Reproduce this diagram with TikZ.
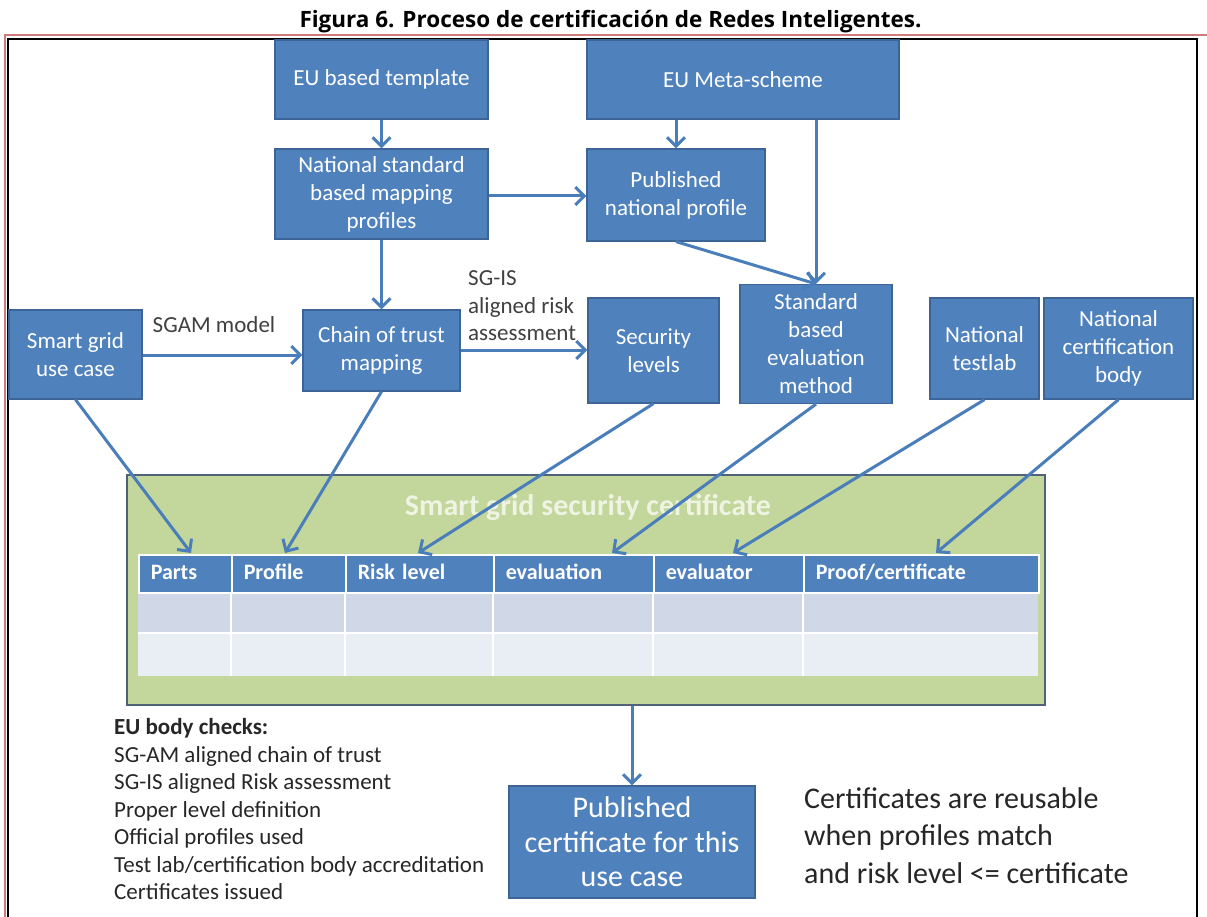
\documentclass[tikz,border=0pt]{standalone}
\usepackage{fontspec}
\setmainfont{Carlito}
\newfontfamily\titlefont{Open Sans}
\usetikzlibrary{arrows.meta,calc}
\definecolor{boxblue}{RGB}{79,129,189}
\definecolor{boxedge}{RGB}{60,100,150}
\definecolor{linkblue}{RGB}{74,126,187}
\definecolor{certgreen}{RGB}{195,214,155}
\definecolor{certedge}{RGB}{80,98,120}
\definecolor{rowa}{RGB}{208,216,232}
\definecolor{rowb}{RGB}{233,237,244}
\definecolor{framered}{RGB}{208,124,124}
\definecolor{labelgray}{RGB}{64,64,64}
\definecolor{textdark}{RGB}{38,38,38}
\definecolor{certtitle}{RGB}{238,243,226}
\tikzset{
  bbox/.style={draw=boxedge, line width=1.2pt, fill=boxblue, text=white, align=center,
    inner sep=0pt, font=\fontsize{23}{28}\selectfont},
  link/.style={draw=linkblue, line width=3pt, -{Straight Barb[length=9pt,width=18pt]}},
  lbl/.style={text=labelgray, inner sep=0pt, align=left, font=\fontsize{23}{27.5}\selectfont},
  hcell/.style={fill=boxblue, draw=white, line width=1.5pt, text=white, anchor=north west,
    align=left, inner xsep=12pt, inner ysep=0pt, minimum height=38pt,
    text height=15pt, text depth=4pt, font=\bfseries\fontsize{22}{26}\selectfont},
}
\begin{document}
\begin{tikzpicture}[x=1pt,y=-1pt]
\useasboundingbox (0,0) rectangle (1207,917);
% title and frame
\node[anchor=base, inner sep=0pt, font=\titlefont\bfseries\fontsize{22.5}{26}\selectfont] (title) at (610.5,28)
  {Figura 6. Proceso de certificación de Redes Inteligentes.};
\draw[framered, line width=2pt] (5,917) -- (5,35.5) -- (1207,35.5);
\draw[black, line width=2pt] (8,917) -- (8,39) -- (1197,39) -- (1197,917);

% upper boxes
\node[bbox, minimum width=213pt, minimum height=79pt] (tmpl) at (381.5,79.5) {EU based template};
\node[bbox, minimum width=312pt, minimum height=79pt] (meta) at (743,79.5) {EU Meta-scheme};
\node[bbox, minimum width=213pt, minimum height=90pt] (natstd) at (381.5,194) {National standard\\based mapping\\profiles};
\node[bbox, minimum width=178pt, minimum height=92pt] (pubprof) at (676,195) {Published\\national profile};
\node[bbox, minimum width=133pt, minimum height=89pt] (sguc) at (75.5,354.5) {Smart grid\\use case};
\node[bbox, minimum width=157pt, minimum height=81pt] (chain) at (381.5,350.5) {Chain of trust\\mapping};
\node[bbox, minimum width=131pt, minimum height=105pt] (seclev) at (653.5,350.5) {Security\\levels};
\node[bbox, minimum width=152pt, minimum height=119pt] (stdeval) at (816,344) {Standard\\based\\evaluation\\method};
\node[bbox, minimum width=109pt, minimum height=101pt] (testlab) at (984.5,348.5) {National\\testlab};
\node[bbox, minimum width=149pt, minimum height=101pt] (natcert) at (1118.5,348.5) {National\\certification\\body};

% labels
\node[lbl] (sgam) at (214,325) {SGAM model};
\node[lbl, anchor=west] (sgis) at (468,306) {SG-IS\\aligned risk\\assessment};

% certificate
\node[draw=certedge, line width=2pt, fill=certgreen, minimum width=918pt, minimum height=230pt, inner sep=0pt] (cert) at (586,590) {};
\node[text=certtitle, inner sep=0pt, font=\bfseries\fontsize{30}{36}\selectfont] (certtitle) at (588,507) {Smart grid security certificate};
\fill[rowa] (138,592) rectangle (1038,633);
\fill[rowb] (138,633) rectangle (1038,676);
\draw[white, line width=1.5pt] (138,633) -- (1038,633);
\foreach \cx in {231,345,493,653,803} \draw[white, line width=1.5pt] (\cx,592) -- (\cx,676);
\node[hcell, text width=69pt] (hparts) at (138,554) {Parts};
\node[hcell, text width=90pt] (hprofile) at (231,554) {Profile};
\node[hcell, text width=124pt] (hrisk) at (345,554) {Risk level};
\node[hcell, text width=136pt] (heval) at (493,554) {evaluation};
\node[hcell, text width=126pt] (hevalr) at (653,554) {evaluator};
\node[hcell, text width=211pt] (hproof) at (803,554) {Proof/certificate};

\coordinate (tparts) at (191,553);
\coordinate (tprofile) at (285,553);
\coordinate (trisk) at (418,553);
\coordinate (teval) at (612,553);
\coordinate (tevalr) at (733,553);
\coordinate (tproof) at (936,553);

% bottom
\node[bbox, minimum width=246pt, minimum height=112pt, font=\fontsize{30}{34.5}\selectfont] (pubcert) at (632,842) {Published\\certificate for this\\use case};
\node[anchor=west, inner sep=0pt, align=left, text=textdark, font=\fontsize{23}{27.5}\selectfont] (checks) at (114,809.5)
  {\textbf{EU body checks:}\\SG-AM aligned chain of trust\\SG-IS aligned Risk assessment\\Proper level definition\\Official profiles used\\Test lab/certification body accreditation\\Certificates issued};
\node[anchor=west, inner sep=0pt, align=left, text=textdark, font=\fontsize{30}{37.5}\selectfont] (reuse) at (804,835.5)
  {Certificates are reusable\\when profiles match\\and risk level <= certificate};

% connectors
\draw[link] (tmpl.south) -- (natstd.north);
\draw[link] (pubprof.north |- meta.south) -- (pubprof.north);
\draw[link] (natstd.east |- 0,196) -- (pubprof.west |- 0,196);
\draw[link] (stdeval.north |- meta.south) -- (stdeval.north);
\draw[link] (pubprof.south) -- (stdeval.north);
\draw[link] (natstd.south) -- (chain.north);
\draw[link] (sguc.east |- 0,355) -- (chain.west |- 0,355);
\draw[link] (chain.east |- 0,350) -- (seclev.west |- 0,350);
\draw[link] (sguc.south) -- (tparts);
\draw[link] (chain.south) -- (tprofile);
\draw[link] (seclev.south) -- (trisk);
\draw[link] (stdeval.south) -- (teval);
\draw[link] (testlab.south) -- (tevalr);
\draw[link] (natcert.south) -- (tproof);
\draw[link] (pubcert.north |- cert.south) -- (pubcert.north);
\end{tikzpicture}
\end{document}
